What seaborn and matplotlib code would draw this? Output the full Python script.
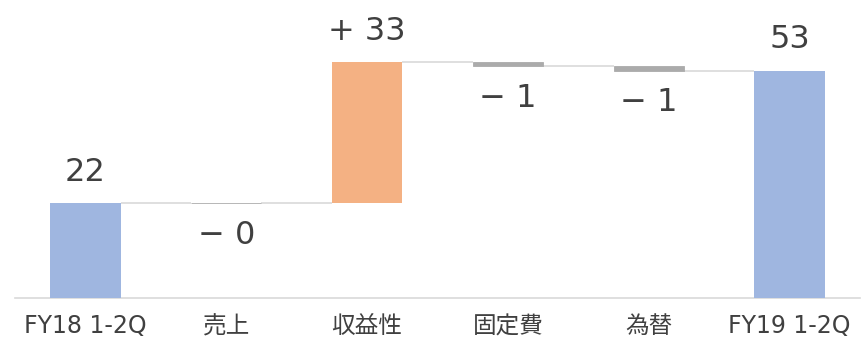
import numpy as np
import matplotlib
matplotlib.use("Agg")
import matplotlib.pyplot as plt
import seaborn as sns

# Operating profit bridge, FY18 1-2Q -> FY19 1-2Q
categories = ["FY18 1-2Q", "売上", "収益性", "固定費", "為替", "FY19 1-2Q"]
values = [22, -0.0, 33, -1, -1, 53]
kinds = ["total", "delta", "delta", "delta", "delta", "total"]

BLUE = "#9FB6E0"
ORANGE = "#F4B183"
GRAY = "#ABABAB"
LIGHT = "#D9D9D9"
TEXT = "#404040"

sns.set_style("white")
plt.rcParams["font.family"] = ["DejaVu Sans", "Noto Sans CJK JP"]

# Running level: floating bars start where the previous step ended
bottoms, heights, levels, colors = [], [], [], []
level = 0.0
for v, k in zip(values, kinds):
    if k == "total":
        bottoms.append(0.0)
        heights.append(v)
        level = v
        colors.append(BLUE)
    else:
        bottoms.append(level)
        heights.append(v)
        level = level + v
        colors.append(GRAY if np.signbit(v) else ORANGE)
    levels.append(level)

fig = plt.figure(figsize=(8.61, 3.37), dpi=100)
ax = fig.add_axes([15 / 861, 39.5 / 337, 845 / 861, 297.5 / 337])

bar_w = 0.5
sns.barplot(x=categories, y=heights, order=categories, bottom=bottoms,
            width=bar_w, color=BLUE, errorbar=None, linewidth=0, ax=ax,
            zorder=3)

for patch, c in zip(ax.patches, colors):
    patch.set_facecolor(c)
    if c == GRAY:
        # keeps a zero-size step visible as a thin line
        patch.set_edgecolor(GRAY)
        patch.set_linewidth(0.6)

# Connector lines between consecutive bars
for i in range(len(categories) - 1):
    ax.plot([i + bar_w / 2, i + 1 - bar_w / 2], [levels[i], levels[i]],
            color=LIGHT, lw=1.2, zorder=2, solid_capstyle="butt")

# Value labels
for i, (v, k) in enumerate(zip(values, kinds)):
    top = max(bottoms[i], bottoms[i] + heights[i])
    low = min(bottoms[i], bottoms[i] + heights[i])
    if k == "total":
        txt, y, dy = f"{v:g}", top, 16
    elif np.signbit(v):
        txt, y, dy = f"\u2212 {abs(v):g}", low, -29
    else:
        txt, y, dy = f"+ {v:g}", top, 16
    ax.annotate(txt, (i, y), xytext=(0, dy), textcoords="offset points",
                ha="center", va="baseline", fontsize=23, color=TEXT)

ax.set_xlim(-0.5, len(categories) - 0.5)
ax.set_ylim(0, 69.5)
ax.set_yticks([])
ax.set_xlabel("")
ax.set_ylabel("")
for side in ["left", "right", "top"]:
    ax.spines[side].set_visible(False)
ax.spines["bottom"].set_color(LIGHT)
ax.spines["bottom"].set_linewidth(1.2)
ax.tick_params(axis="x", length=0, pad=12, labelsize=17, labelcolor=TEXT)

fig.savefig("out.png", dpi=100, facecolor="white")
